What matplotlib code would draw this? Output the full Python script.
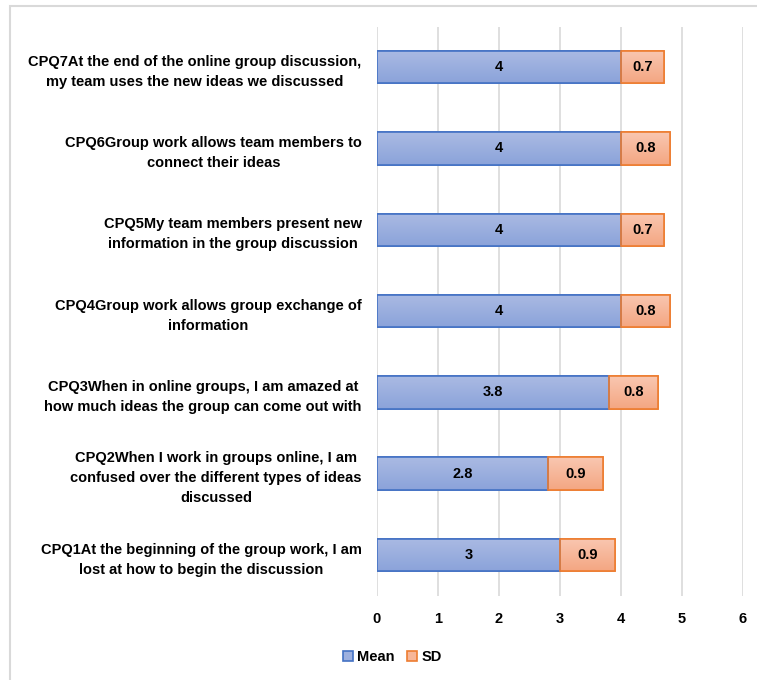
import numpy as np
import matplotlib
matplotlib.use('Agg')
import matplotlib.pyplot as plt
from matplotlib.patches import Rectangle

# data, bottom to top as drawn
questions = [
    "CPQ1At the beginning of the group work, I am\nlost at how to begin the discussion",
    "CPQ2When I work in groups online, I am\nconfused over the different types of ideas\ndiscussed",
    "CPQ3When in online groups, I am amazed at\nhow much ideas the group can come out with",
    "CPQ4Group work allows group exchange of\ninformation",
    "CPQ5My team members present new\ninformation in the group discussion",
    "CPQ6Group work allows team members to\nconnect their ideas",
    "CPQ7At the end of the online group discussion,\nmy team uses the new ideas we discussed",
]
mean_vals = [3, 2.8, 3.8, 4, 4, 4, 4]
sd_vals = [0.9, 0.9, 0.8, 0.8, 0.7, 0.8, 0.7]
x_ticks = [0, 1, 2, 3, 4, 5, 6]

plt.rcParams['font.family'] = ['Liberation Sans', 'DejaVu Sans']

mean_face = '#9DB0DF'
mean_edge = '#4472C4'
sd_face = '#F7B698'
sd_edge = '#ED7D31'


def gradient_fill(ax, bars, top_col, bot_col):
    """Paint a vertical gradient inside each bar, clipped to the bar."""
    c1 = np.array(matplotlib.colors.to_rgb(top_col))
    c2 = np.array(matplotlib.colors.to_rgb(bot_col))
    t = np.linspace(0, 1, 64)[:, None]
    img = (c1 * (1 - t) + c2 * t)[:, None, :]
    for b in bars:
        x0, y0 = b.get_x(), b.get_y()
        w, h = b.get_width(), b.get_height()
        im = ax.imshow(img, extent=(x0, x0 + w, y0, y0 + h), origin='upper',
                       aspect='auto', zorder=3, interpolation='bilinear')
        im.set_clip_path(b)


fig = plt.figure(figsize=(7.57, 6.8), dpi=100)
ax = fig.add_axes([0.498, 0.124, 0.4835, 0.837])

y = list(range(len(questions)))
b1 = ax.barh(y, mean_vals, height=0.4, color=mean_face, edgecolor=mean_edge,
             linewidth=1.2, label='Mean', zorder=3)
b2 = ax.barh(y, sd_vals, left=mean_vals, height=0.4, color=sd_face,
             edgecolor=sd_edge, linewidth=1.2, label='SD', zorder=3)
gradient_fill(ax, b1, '#AABAE3', '#8BA3DA')
gradient_fill(ax, b2, '#F9C7B1', '#F4A682')
# redraw edges on top of the gradient
for b, ec in [(bb, mean_edge) for bb in b1] + [(bb, sd_edge) for bb in b2]:
    ax.add_patch(Rectangle((b.get_x(), b.get_y()), b.get_width(), b.get_height(),
                           fill=False, edgecolor=ec, linewidth=1.2, zorder=3.5))

for yi, m, s in zip(y, mean_vals, sd_vals):
    ax.text(m / 2, yi, f'{m:g}', ha='center', va='center',
            fontsize=10.5, fontweight='bold', zorder=4)
    ax.text(m + s / 2, yi, f'{s:g}', ha='center', va='center',
            fontsize=10.5, fontweight='bold', zorder=4)

ax.set_xlim(0, 6)
ax.set_ylim(-0.5, len(questions) - 0.5)
ax.set_xticks(x_ticks)
ax.set_xticklabels([str(t) for t in x_ticks], fontsize=10.5, fontweight='bold')
ax.set_yticks(y)
ax.set_yticklabels(questions, fontsize=10.5, fontweight='bold',
                   multialignment='center', linespacing=1.55)
ax.tick_params(axis='both', length=0)
ax.tick_params(axis='x', pad=12)
ax.tick_params(axis='y', pad=11)
for sp in ax.spines.values():
    sp.set_visible(False)
ax.grid(axis='x', color='#D9D9D9', linewidth=1.2, zorder=0)
ax.set_axisbelow(True)

fig.legend(loc='center', bbox_to_anchor=(0.518, 0.034), ncol=2,
           frameon=False, handlelength=0.7, handleheight=0.7,
           handletextpad=0.3, columnspacing=0.8,
           prop={'weight': 'bold', 'size': 10.5})

# chart area border
fig.patches.append(Rectangle((10 / 757, -0.01), 1.0, 1 - 6 / 680 + 0.01,
                             transform=fig.transFigure, fill=False,
                             edgecolor='#D9D9D9', linewidth=1.5))

fig.savefig('out.png', dpi=100, facecolor='white')
